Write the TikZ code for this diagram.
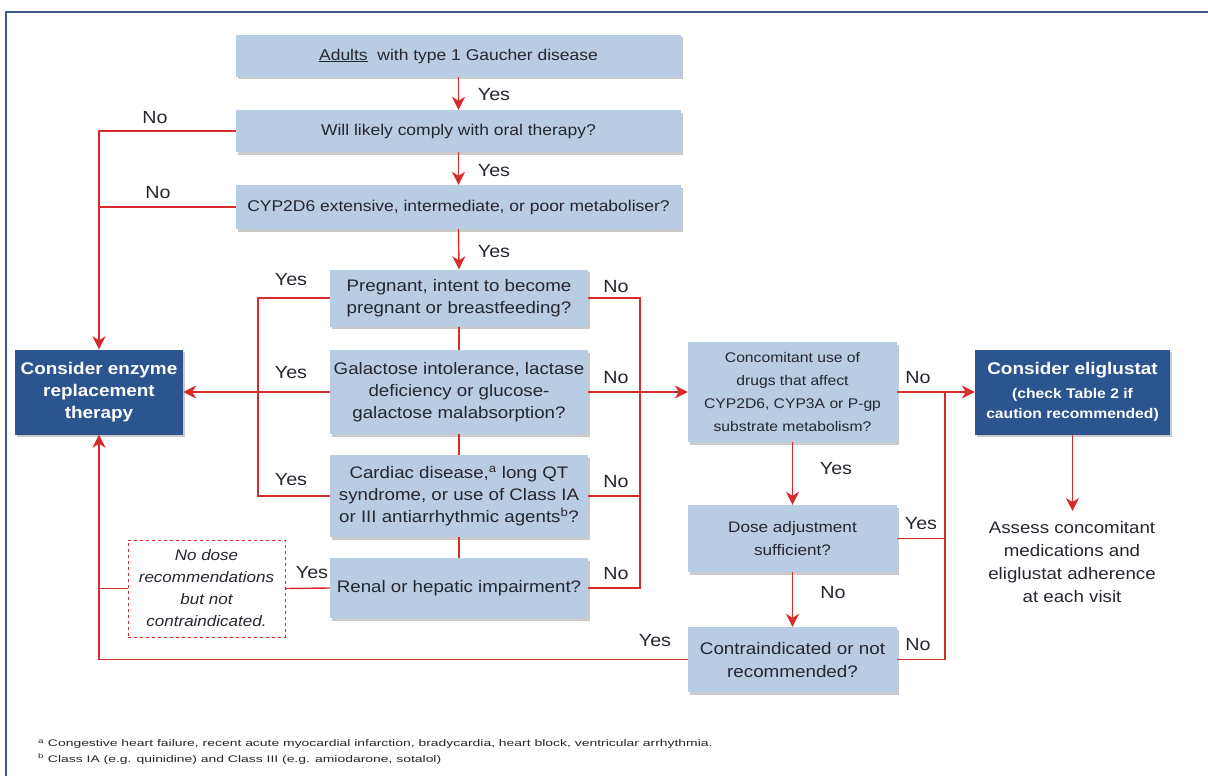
\documentclass[tikz,border=0pt]{standalone}
\usepackage{fontspec}
\setmainfont{Liberation Sans}[FakeStretch=1.12]
\newfontfamily\footfont{Liberation Sans}[FakeStretch=1.45]
\usetikzlibrary{arrows.meta,shadows}
\definecolor{lb}{RGB}{184,204,228}
\definecolor{db}{RGB}{44,84,142}
\definecolor{rl}{RGB}{214,44,44}
\definecolor{tx}{RGB}{38,38,48}
\definecolor{fr}{RGB}{60,90,140}
\begin{document}
\begin{tikzpicture}[x=1pt,y=-1pt,
 lbox/.style={fill=lb, draw=none, align=center, text=tx, inner sep=0pt,
   font=\fontsize{15.6}{22}\selectfont,
   drop shadow={shadow xshift=1.5pt, shadow yshift=-2.5pt, opacity=0.35, fill=black!60}},
 mbox/.style={lbox, font=\fontsize{16.7}{22}\selectfont},
 dbox/.style={lbox, fill=db, text=white, font=\fontsize{16.9}{22}\selectfont\bfseries},
 conn/.style={draw=rl, line width=1.4pt},
 arr/.style={conn, -{Stealth[length=13pt,width=13pt,inset=4pt]}},
 lab/.style={text=tx, font=\fontsize{17.6}{18}\selectfont, inner sep=0pt},
 foot/.style={text=tx, font=\footfont\fontsize{9.6}{13}\selectfont, inner sep=0pt, anchor=west},
]
\useasboundingbox (0,0) rectangle (1208,776);
\draw[fr, line width=2pt] (6,776) -- (6,12) -- (1208,12);

% main column
\node[lbox, minimum width=445pt, minimum height=42pt] (b1) at (458.5,56) {\underline{Adults}\ \ with type 1 Gaucher disease};
\node[lbox, minimum width=445pt, minimum height=42pt] (b2) at (458.5,131) {Will likely comply with oral therapy?};
\node[lbox, minimum width=445pt, minimum height=44pt] (b3) at (458.5,207) {CYP2D6 extensive, intermediate, or poor metaboliser?};
\node[mbox, minimum width=258pt, minimum height=57pt] (b4) at (459,298) {Pregnant, intent to become\\pregnant or breastfeeding?};
\node[mbox, minimum width=258pt, minimum height=84pt] (b5) at (459,392) {Galactose intolerance, lactase\\deficiency or glucose-\\galactose malabsorption?};
\node[mbox, minimum width=258pt, minimum height=82pt] (b6) at (459,496) {Cardiac disease,\textsuperscript{a} long QT\\syndrome, or use of Class IA\\or III antiarrhythmic agents\textsuperscript{b}?};
\node[mbox, minimum width=258pt, minimum height=60pt] (b7) at (459,588) {Renal or hepatic impairment?};

% left
\node[dbox, minimum width=168pt, minimum height=85pt] (ert) at (99,392) {Consider enzyme\\replacement\\therapy};
\node[draw=rl, dashed, line width=1pt, minimum width=157pt, minimum height=97pt, align=center, inner sep=0pt,
  text=tx, font=\fontsize{15.2}{22}\selectfont\itshape] (dash) at (206.5,588.5) {No dose\\recommendations\\but not\\contraindicated.};

% right
\node[lbox, minimum width=209pt, minimum height=100pt, font=\fontsize{14}{23}\selectfont] (c1) at (792.5,392) {Concomitant use of\\drugs that affect\\CYP2D6, CYP3A or P-gp\\substrate metabolism?};
\node[lbox, minimum width=209pt, minimum height=67pt, font=\fontsize{15.3}{23}\selectfont] (c2) at (792.5,538.5) {Dose adjustment\\sufficient?};
\node[lbox, minimum width=209pt, minimum height=65pt, font=\fontsize{16.8}{23}\selectfont] (c3) at (792.5,659.5) {Contraindicated or not\\recommended?};
\node[lbox, fill=db, text=white, minimum width=195pt, minimum height=85pt, font=\bfseries\fontsize{14}{20}\selectfont] (elig) at (1072.5,392)
  {\fontsize{16.9}{20}\selectfont Consider eliglustat\\[4pt]\fontsize{14}{20}\selectfont (check Table 2 if\\caution recommended)};
\node[align=center, text=tx, inner sep=0pt, font=\fontsize{16.7}{23}\selectfont, anchor=north] (assess) at (1072,521)
  {Assess concomitant\\medications and\\eliglustat adherence\\at each visit};

% coordinates
\coordinate (yl) at (258,0);
\coordinate (nr) at (640,0);
\coordinate (r2) at (945,0);

% connectors main column
\draw[arr] (b1.south) -- (b2.north);
\draw[arr] (b2.south) -- (b3.north);
\draw[arr] (b3.south) -- (b4.north);
\draw[conn] (b4.south) -- (b5.north);
\draw[conn] (b5.south) -- (b6.north);
\draw[conn] (b6.south) -- (b7.north);

% No to ERT
\draw[conn] (b3.west) -- (b3.west -| ert.north);
\draw[arr] (b2.west) -| (ert.north);
% Yes bracket
\draw[conn] (b4.west) -- (b4.west -| yl) -- (b6.west -| yl) -- (b6.west);
\draw[arr] (b5.west) -- (ert.east);
% renal
\draw[conn] (b7.west) -- (dash.east);
\draw[conn] (dash.west) -- (dash.west -| ert.south);
\draw[arr] (c3.west) -| (ert.south);
% No bracket
\draw[conn] (b4.east) -- (b4.east -| nr) -- (b7.east -| nr) -- (b7.east);
\draw[conn] (b6.east) -- (b6.east -| nr);
\draw[arr] (b5.east) -- (c1.west);
% right column
\draw[arr] (c1.south) -- (c2.north);
\draw[arr] (c2.south) -- (c3.north);
\draw[arr] (c1.east) -- (elig.west);
\draw[conn] (c1.east -| r2) -- (c3.east -| r2) -- (c3.east);
\draw[conn] (c2.east) -- (c2.east -| r2);
\coordinate (ae) at (1072.5,511);
\draw[arr] (elig.south) -- (ae);

% labels
\node[lab] (y1) at (494,95) {Yes};
\node[lab] (y2) at (494,171) {Yes};
\node[lab] (y3) at (494,252) {Yes};
\node[lab] (n1) at (155,118) {No};
\node[lab] (n2) at (158,193) {No};
\node[lab] (y4) at (291,280) {Yes};
\node[lab] (y5) at (291,373) {Yes};
\node[lab] (y6) at (291,480) {Yes};
\node[lab] (y7) at (312,573) {Yes};
\node[lab] (n3) at (616,287) {No};
\node[lab] (n4) at (616,378) {No};
\node[lab] (n5) at (616,482) {No};
\node[lab] (n6) at (616,574) {No};
\node[lab] (y8) at (655,641) {Yes};
\node[lab] (y9) at (836,469) {Yes};
\node[lab] (n7) at (833,593) {No};
\node[lab] (n8) at (918,378) {No};
\node[lab] (y10) at (921,524) {Yes};
\node[lab] (n9) at (918,645) {No};

% footnotes
\node[foot] (f1) at (38,744) {\textsuperscript{a} Congestive heart failure, recent acute myocardial infarction, bradycardia, heart block, ventricular arrhythmia.};
\node[foot] (f2) at (38,759) {\textsuperscript{b} Class IA (e.g. quinidine) and Class III (e.g. amiodarone, sotalol)};
\end{tikzpicture}
\end{document}
